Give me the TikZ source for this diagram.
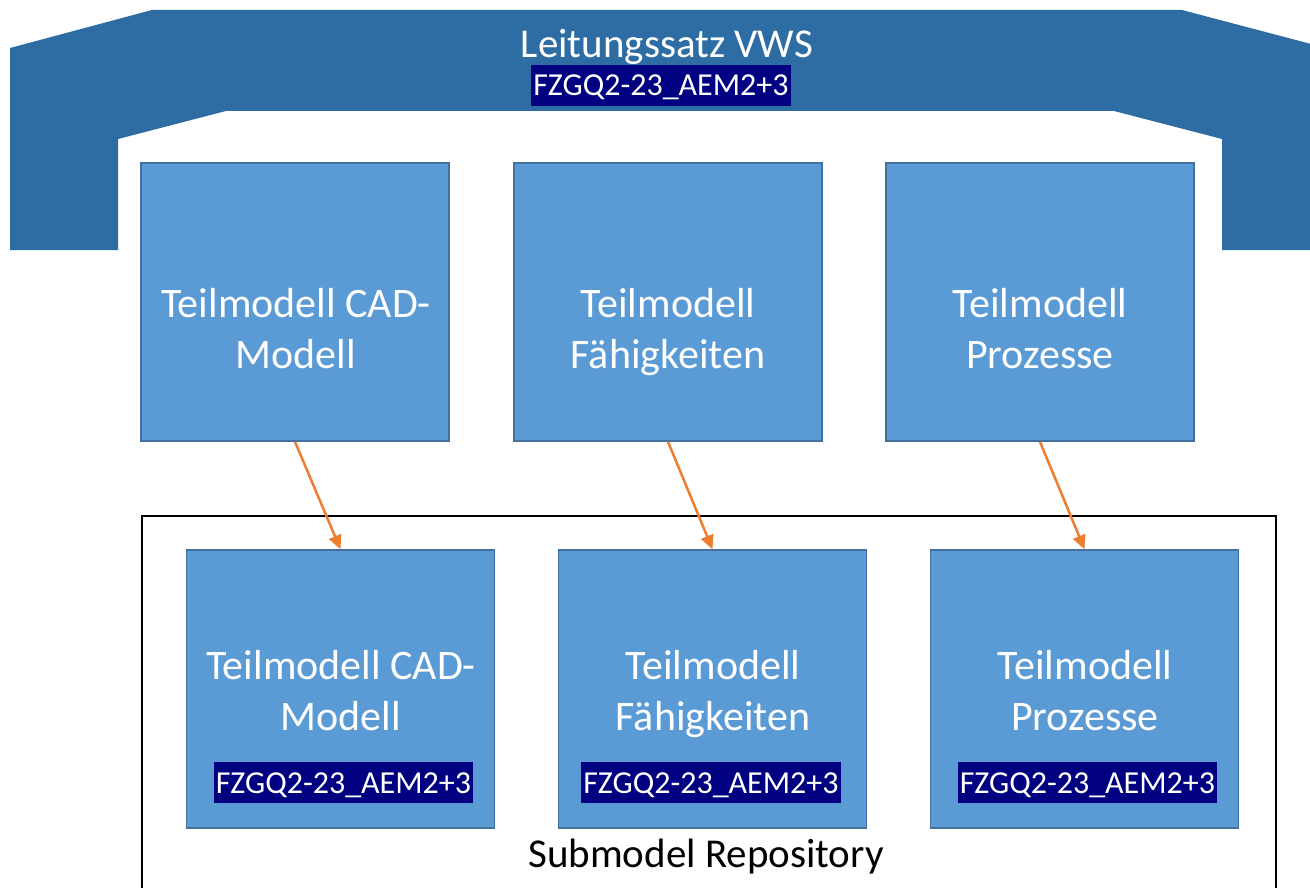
\documentclass[tikz,border=0pt]{standalone}
\usepackage{fontspec}
\setmainfont{Carlito}
\usetikzlibrary{arrows.meta}
\definecolor{banner}{HTML}{2E6DA4}
\definecolor{boxfill}{HTML}{5B9BD5}
\definecolor{boxline}{HTML}{41719C}
\definecolor{navy}{HTML}{000080}
\definecolor{arrowc}{HTML}{ED7D31}
\tikzset{
  model/.style={draw=boxline, line width=1.5pt, fill=boxfill, minimum width=308pt, minimum height=278pt, inner sep=0pt},
  mtext/.style={text=white, align=center, font=\fontsize{42}{51}\selectfont, inner sep=0pt},
  tag/.style={fill=navy, text=white, font=\fontsize{32}{34}\selectfont, inner xsep=2pt, inner ysep=0pt, text height=31pt, text depth=10pt, anchor=base},
  flow/.style={draw=arrowc, line width=2.5pt, -{Triangle[length=14pt,width=13pt]}},
}
\begin{document}
\begin{tikzpicture}[x=1pt,y=-1pt]
\useasboundingbox (0,0) rectangle (1310,888);
\clip (0,0) rectangle (1310,888);
\fill[white] (0,0) rectangle (1310,888);
% banner
\fill[banner] (10,250) -- (10,48) -- (152,10) -- (1182,10) -- (1330,49) -- (1330,250) -- (1222,250) -- (1222,139) -- (1114,111) -- (226,111) -- (118,139) -- (118,250) -- cycle;
\node[text=white, font=\fontsize{41}{44}\selectfont, inner sep=0pt, anchor=base] (title) at (667,58) {Leitungssatz VWS};
\node[tag] (ttag) at (661,96) {FZGQ2-23\_AEM2+3};
% top models
\node[model] (a1) at (295,302) {};
\node[model] (a2) at (668,302) {};
\node[model] (a3) at (1040,302) {};
\node[mtext] (a1t) at (296,333) {\strut Teilmodell CAD-\\\strut Modell};
\node[mtext] (a2t) at (668,333) {\strut Teilmodell\\\strut Fähigkeiten};
\node[mtext] (a3t) at (1040,333) {\strut Teilmodell\\\strut Prozesse};
% repository
\draw[line width=1.5pt] (142,895) -- (142,516) -- (1276,516) -- (1276,895);
\node[font=\fontsize{41}{44}\selectfont, inner sep=0pt, anchor=base] (repo) at (706,867) {Submodel Repository};
\node[model] (b1) at (340.5,689) {};
\node[model] (b2) at (712.5,689) {};
\node[model] (b3) at (1084.5,689) {};
\node[mtext] (b1t) at (341,695) {\strut Teilmodell CAD-\\\strut Modell};
\node[mtext] (b2t) at (713,695) {\strut Teilmodell\\\strut Fähigkeiten};
\node[mtext] (b3t) at (1085,695) {\strut Teilmodell\\\strut Prozesse};
\node[tag] (b1g) at (343.5,793) {FZGQ2-23\_AEM2+3};
\node[tag] (b2g) at (711,793) {FZGQ2-23\_AEM2+3};
\node[tag] (b3g) at (1087.5,793) {FZGQ2-23\_AEM2+3};
% arrows
\draw[flow] (a1.south) -- (b1.north);
\draw[flow] (a2.south) -- (b2.north);
\draw[flow] (a3.south) -- (b3.north);
\end{tikzpicture}
\end{document}
